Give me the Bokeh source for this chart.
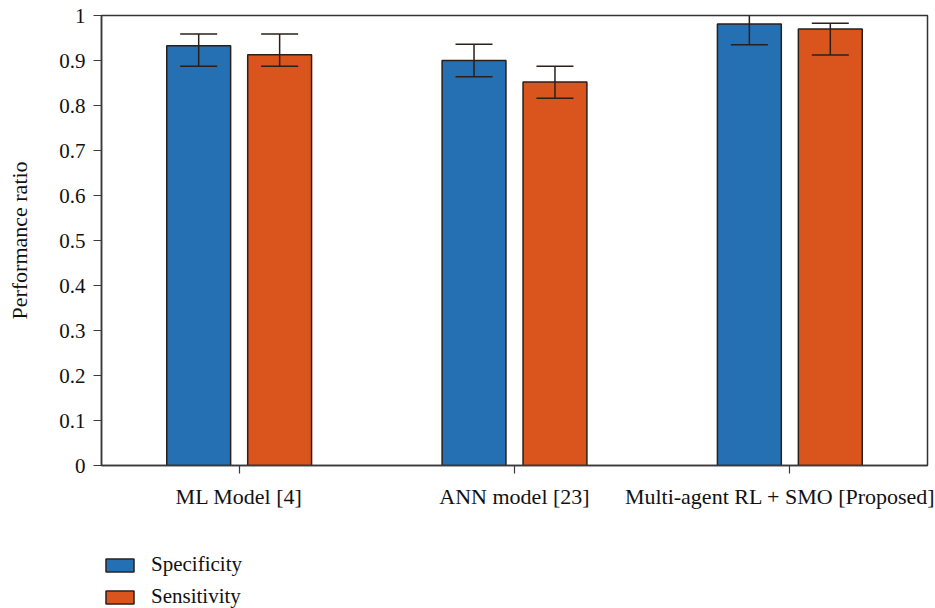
from bokeh.plotting import figure
from bokeh.models import (ColumnDataSource, FactorRange, Range1d, FixedTicker, Whisker,
                          TeeHead, Legend, LegendItem)
from bokeh.layouts import column
from bokeh.transform import dodge
from bokeh.embed import file_html
from bokeh.resources import INLINE

categories = ["ML Model [4]", "ANN model [23]", "Multi-agent RL + SMO [Proposed]"]
specificity = [0.933, 0.900, 0.981]
specificity_lo = [0.887, 0.864, 0.935]
specificity_hi = [0.959, 0.936, 1.006]
sensitivity = [0.913, 0.852, 0.970]
sensitivity_lo = [0.887, 0.816, 0.912]
sensitivity_hi = [0.959, 0.887, 0.983]
y_ticks = [0, 0.1, 0.2, 0.3, 0.4, 0.5, 0.6, 0.7, 0.8, 0.9, 1]
y_tick_labels = ["0", "0.1", "0.2", "0.3", "0.4", "0.5", "0.6", "0.7", "0.8", "0.9", "1"]
series_names = ["Specificity", "Sensitivity"]

FONT = "Liberation Serif"
FS = "21px"
FS_X = "22px"
BLUE = "#2470B3"
ORANGE = "#DA551D"
DARK = "#2a1f1a"

src = ColumnDataSource(dict(
    cat=categories,
    spec=specificity, spec_lo=specificity_lo, spec_hi=specificity_hi,
    sens=sensitivity, sens_lo=sensitivity_lo, sens_hi=sensitivity_hi,
))

p = figure(x_range=FactorRange(*categories, range_padding=0),
           y_range=Range1d(0, 1),
           width=935, height=520, output_backend="svg", toolbar_location=None,
           min_border_left=101, min_border_right=8, min_border_top=15, min_border_bottom=55)

off = 0.147
bw = 0.232
r1 = p.vbar(x=dodge("cat", -off, range=p.x_range), top="spec", width=bw, source=src,
            fill_color=BLUE, line_color=DARK, line_width=1.5)
r2 = p.vbar(x=dodge("cat", off, range=p.x_range), top="sens", width=bw, source=src,
            fill_color=ORANGE, line_color=DARK, line_width=1.5)

for base, lo, hi in [(dodge("cat", -off, range=p.x_range), "spec_lo", "spec_hi"),
                     (dodge("cat", off, range=p.x_range), "sens_lo", "sens_hi")]:
    w = Whisker(base=base, lower=lo, upper=hi, source=src, level="overlay",
                line_color=DARK, line_width=1.5,
                upper_head=TeeHead(size=37, line_color=DARK, line_width=1.5),
                lower_head=TeeHead(size=37, line_color=DARK, line_width=1.5))
    p.add_layout(w)

p.xgrid.grid_line_color = None
p.ygrid.grid_line_color = None
p.outline_line_color = "#333333"
p.outline_line_width = 1.5

p.yaxis.ticker = FixedTicker(ticks=y_ticks)
p.yaxis.major_label_overrides = {t: l for t, l in zip(y_ticks, y_tick_labels)}
p.yaxis.minor_tick_line_color = None
p.yaxis.axis_label = "Performance ratio"
for ax in (p.xaxis, p.yaxis):
    ax.axis_line_color = "#3a3a3a"
    ax.axis_line_width = 1.5
    ax.major_tick_line_color = "#3a3a3a"
    ax.major_tick_line_width = 1.2
    ax.major_tick_out = 8
    ax.major_tick_in = 0
    ax.major_label_text_font = FONT
    ax.major_label_text_font_size = FS
    ax.major_label_text_color = "#111111"
    ax.axis_label_text_font = FONT
    ax.axis_label_text_font_size = FS_X
    ax.axis_label_text_font_style = "normal"
    ax.axis_label_text_color = "#111111"
p.xaxis.major_label_text_font_size = FS_X
p.xaxis.major_label_standoff = 10
p.yaxis.major_label_standoff = 8
p.yaxis.axis_label_standoff = 24

# legend panel below the chart
p2 = figure(width=935, height=88, output_backend="svg", toolbar_location=None,
            x_axis_type=None, y_axis_type=None, min_border=0,
            outline_line_color=None)
p2.xgrid.grid_line_color = None
p2.ygrid.grid_line_color = None
lr1 = p2.vbar(x=[0], top=[0], width=0, fill_color=BLUE, line_color=DARK, line_width=1.5)
lr2 = p2.vbar(x=[0], top=[0], width=0, fill_color=ORANGE, line_color=DARK, line_width=1.5)
legend = Legend(items=[LegendItem(label=series_names[0], renderers=[lr1]),
                       LegendItem(label=series_names[1], renderers=[lr2])],
                location=(1, -1), orientation="vertical",
                glyph_width=35, glyph_height=16, label_height=16, spacing=7,
                label_standoff=14, padding=0, margin=0,
                border_line_color=None, background_fill_alpha=0,
                label_text_font=FONT, label_text_font_size=FS, label_text_color="#111111")
p2.add_layout(legend, "center")

layout = column(p, p2, spacing=0)
open("out.html", "w").write(file_html(layout, INLINE))
